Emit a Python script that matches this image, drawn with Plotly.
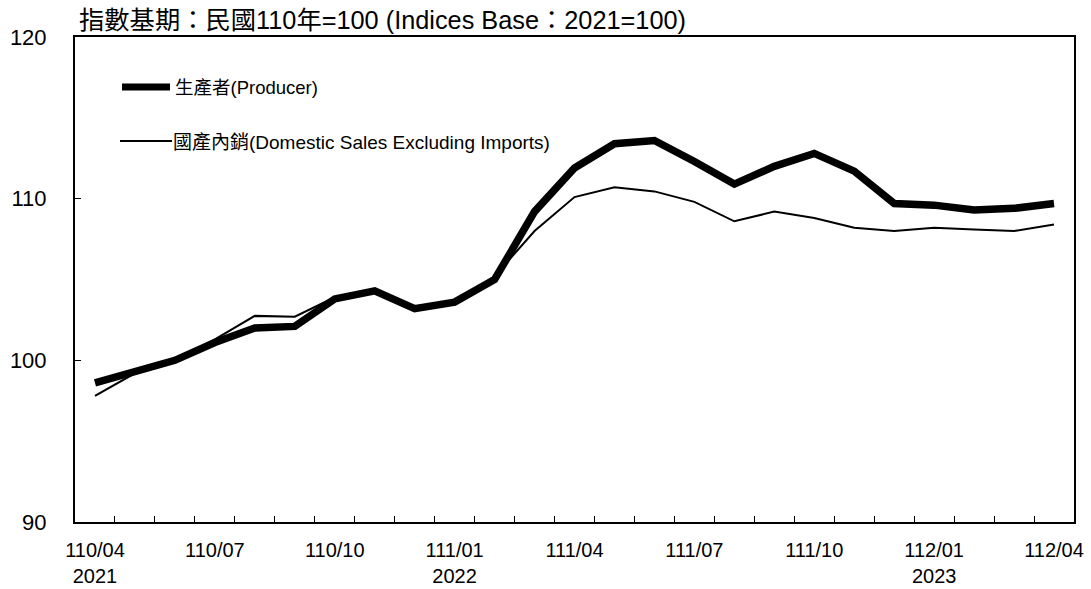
import plotly.graph_objects as go

months = ["110/04", "110/05", "110/06", "110/07", "110/08", "110/09", "110/10", "110/11", "110/12",
          "111/01", "111/02", "111/03", "111/04", "111/05", "111/06", "111/07", "111/08", "111/09",
          "111/10", "111/11", "111/12", "112/01", "112/02", "112/03", "112/04"]
tick_text = ["110/04<br>2021", "", "", "110/07", "", "", "110/10", "", "",
             "111/01<br>2022", "", "", "111/04", "", "", "111/07", "", "",
             "111/10", "", "", "112/01<br>2023", "", "", "112/04"]
producer = [98.6, 99.3, 100.0, 101.1, 102.0, 102.1, 103.8, 104.3, 103.2, 103.6, 105.0, 109.2,
            111.9, 113.4, 113.6, 112.3, 110.9, 112.0, 112.8, 111.7, 109.7, 109.6, 109.3, 109.4, 109.7]
domestic = [97.8, 99.2, 100.0, 101.3, 102.75, 102.7, 103.9, 104.3, 103.2, 103.6, 105.2, 108.0,
            110.1, 110.7, 110.45, 109.8, 108.6, 109.2, 108.8, 108.2, 108.0, 108.2, 108.1, 108.0, 108.4]
name_producer = "生產者(Producer)"
name_domestic = "國產內銷(Domestic Sales Excluding Imports)"
title_text = "指數基期：民國110年=100 (Indices Base：2021=100)"

W, H = 1091, 589
L, R, T, B = 75, 17, 37, 67
pw, ph = W - L - R, H - T - B
FONT = "Liberation Sans, Arial, Noto Sans CJK TC, sans-serif"

def px(x):
    return (x - L) / pw

def py(y):
    return 1 - (y - T) / ph

fig = go.Figure()
fig.add_trace(go.Scatter(x=months, y=domestic, mode="lines", name=name_domestic,
                         line=dict(color="black", width=2), showlegend=False))
fig.add_trace(go.Scatter(x=months, y=producer, mode="lines", name=name_producer,
                         line=dict(color="black", width=7.5), showlegend=False))

# manual legend
shapes = [
    dict(type="line", xref="paper", yref="paper", x0=px(122), x1=px(170), y0=py(87), y1=py(87),
         line=dict(color="black", width=7)),
    dict(type="line", xref="paper", yref="paper", x0=px(120), x1=px(172), y0=py(141), y1=py(141),
         line=dict(color="black", width=2)),
]
annotations = [
    dict(text=name_producer, xref="paper", yref="paper", x=px(173), y=py(88), xanchor="left",
         yanchor="middle", showarrow=False, font=dict(size=18.5, color="black", family=FONT)),
    dict(text=name_domestic, xref="paper", yref="paper", x=px(171), y=py(142), xanchor="left",
         yanchor="middle", showarrow=False, font=dict(size=19, color="black", family=FONT)),
    dict(text=title_text, xref="paper", yref="paper", x=px(77), y=py(20), xanchor="left",
         yanchor="middle", showarrow=False, font=dict(size=25.3, color="black", family=FONT)),
]

fig.update_layout(
    width=W, height=H,
    margin=dict(l=L, r=R, t=T, b=B),
    paper_bgcolor="white", plot_bgcolor="white",
    font=dict(family=FONT, color="black", size=20),
    shapes=shapes, annotations=annotations,
    showlegend=False,
)
fig.update_xaxes(
    type="category", tickmode="array", tickvals=months, ticktext=tick_text,
    range=[-0.5, len(months) - 0.5], automargin=False,
    tickson="boundaries", ticks="inside", ticklen=6, tickcolor="black", tickwidth=1,
    showline=True, linecolor="black", linewidth=2, mirror=True,
    showgrid=False, zeroline=False, tickangle=0, tickfont=dict(size=20),
    ticklabelstandoff=9,
)
fig.update_yaxes(
    range=[90, 120], dtick=10, tick0=90, ticks="inside", ticklen=6, tickcolor="black", tickwidth=1,
    showline=True, linecolor="black", linewidth=2, mirror=True, automargin=False,
    showgrid=False, zeroline=False, tickfont=dict(size=22),
    ticklabelstandoff=22,
)

fig.write_html("out.html", config={"displayModeBar": False},
               post_script="document.body.style.margin='0';document.body.style.overflow='hidden';")
